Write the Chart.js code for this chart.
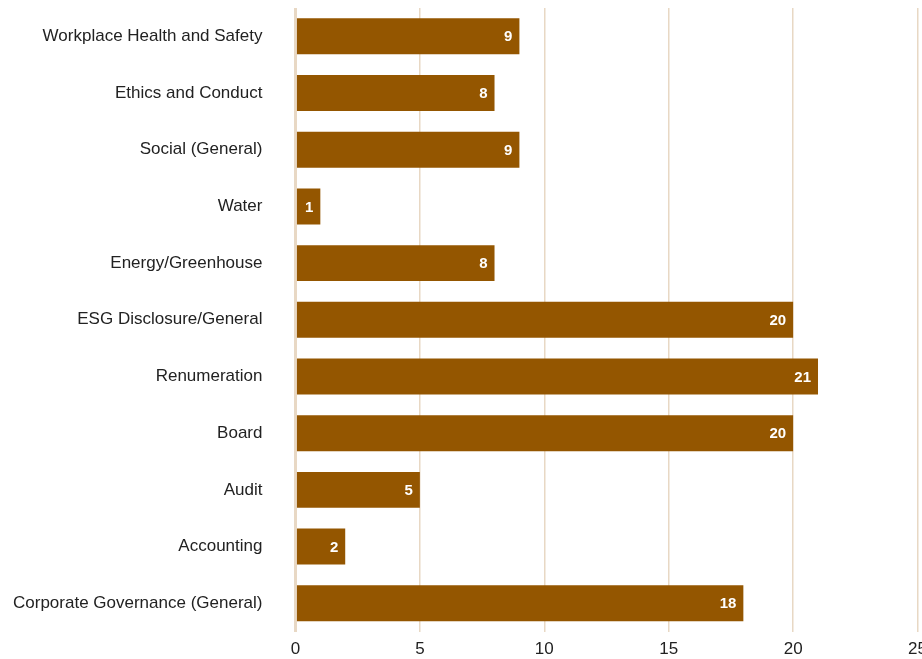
<!DOCTYPE html>
<html>
<head>
<meta charset="utf-8">
<script src="https://cdn.jsdelivr.net/npm/chart.js@4"></script>
<style>
  html, body { margin: 0; padding: 0; background: #fff; overflow: hidden; }
  canvas { display: block; }
</style>
</head>
<body>
<canvas id="chart" width="935" height="659"></canvas>
<script>
// категории и значения
const categories = [
  "Workplace Health and Safety",
  "Ethics and Conduct",
  "Social (General)",
  "Water",
  "Energy/Greenhouse",
  "ESG Disclosure/General",
  "Renumeration",
  "Board",
  "Audit",
  "Accounting",
  "Corporate Governance (General)"
]
const counts = [9, 8, 9, 1, 8, 20, 21, 20, 5, 2, 18]
const xTicks = [0, 5, 10, 15, 20, 25]

const barColor = "#945600"
const gridColor = "#e8d8c4"
const fontFamily = "'Liberation Sans', Arial, sans-serif"

// подписи значений внутри конца столбца
const valueLabels = {
  id: "valueLabels",
  afterDatasetsDraw(chart) {
    const { ctx } = chart
    const meta = chart.getDatasetMeta(0)
    ctx.save()
    ctx.font = "bold 15px " + fontFamily
    ctx.fillStyle = "#ffffff"
    ctx.textAlign = "right"
    ctx.textBaseline = "middle"
    meta.data.forEach((bar, i) => {
      ctx.fillText(String(counts[i]), bar.x - 7, bar.y + 1)
    })
    ctx.restore()
  }
}

new Chart(document.getElementById("chart"), {
  type: "bar",
  data: {
    labels: categories,
    datasets: [{
      data: counts,
      backgroundColor: barColor,
      barPercentage: 0.634,
      categoryPercentage: 1
    }]
  },
  plugins: [valueLabels],
  options: {
    indexAxis: "y",
    responsive: false,
    animation: false,
    layout: { padding: { top: 8, bottom: -9, left: -20, right: 0 } },
    plugins: {
      legend: { display: false },
      tooltip: { enabled: false }
    },
    scales: {
      x: {
        min: 0,
        max: 25,
        z: 1,
        afterBuildTicks(scale) {
          scale.ticks = xTicks.map(v => ({ value: v }))
        },
        grid: {
          color: gridColor,
          lineWidth: ctx => (ctx.tick && ctx.tick.value === 0 ? 3 : 1.5),
          drawTicks: false
        },
        border: { display: false },
        ticks: {
          padding: 8,
          color: "#222",
          font: { size: 17, family: fontFamily }
        }
      },
      y: {
        // отступ подписей не должен раздувать верх/низ области графика
        afterFit(scale) {
          scale.paddingTop = 0
          scale.paddingBottom = 0
        },
        grid: { display: false, drawTicks: false },
        border: { display: false },
        ticks: {
          padding: 33,
          color: "#222",
          font: { size: 17, family: fontFamily }
        }
      }
    }
  }
})
</script>
</body>
</html>
